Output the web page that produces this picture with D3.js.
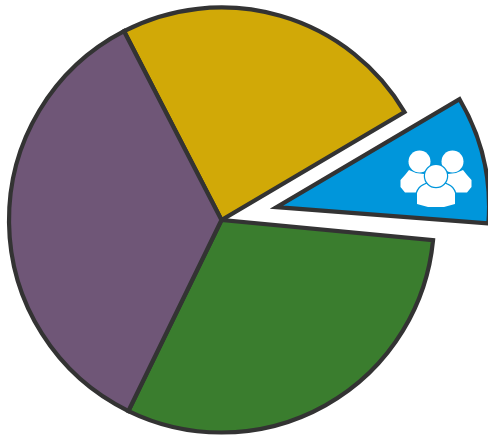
<!DOCTYPE html>
<html>
<head>
<meta charset="utf-8">
<style>
  html, body { margin: 0; padding: 0; background: #fff; overflow: hidden; }
  svg { display: block; }
</style>
<script src="https://cdn.jsdelivr.net/npm/d3@7"></script>
</head>
<body>
<script>
// Slice shares, clockwise from the top-left boundary; "Gap" is a small unpainted sliver
const categories = ["Yellow", "Blue", "Gap", "Green", "Purple"];
const shares = [24.1, 9.7, 0.3, 30.7, 35.2];
const colors = ["#d1a907", "#0096db", "none", "#3a7d2e", "#6f5677"];
const explodedSlice = "Blue";

const width = 488, height = 437;
const cx = 221.5, cy = 220, radius = 212.5, explode = 56.5;
const startDeg = -27.3;

const svg = d3.select("body").append("svg")
  .attr("width", width).attr("height", height);

const pie = d3.pie().sort(null)
  .startAngle(startDeg * Math.PI / 180)
  .endAngle((startDeg + 360) * Math.PI / 180)
  .value(d => d.share);

const arc = d3.arc().innerRadius(0).outerRadius(radius);

const slices = pie(categories.map((name, i) => ({ name, share: shares[i], color: colors[i] })))
  .filter(d => d.data.color !== "none");

const offset = d => {
  if (d.data.name !== explodedSlice) return [0, 0];
  const mid = (d.startAngle + d.endAngle) / 2;
  return [Math.sin(mid) * explode, -Math.cos(mid) * explode];
};

const groups = svg.selectAll("g.slice").data(slices).join("g")
  .attr("class", "slice")
  .attr("transform", d => {
    const [dx, dy] = offset(d);
    return `translate(${cx + dx},${cy + dy})`;
  });

groups.append("path")
  .attr("d", arc)
  .attr("fill", d => d.data.color)
  .attr("stroke", "#333333")
  .attr("stroke-width", 4.2)
  .attr("stroke-linejoin", "miter");

// People icon sitting on the exploded slice
const icon = svg.append("g").attr("transform", "translate(436,178)").attr("fill", "#fff");
const blue = colors[categories.indexOf(explodedSlice)];

const sideBody = "M-31,14.5 L-35.5,9 L-35.5,2 L-31,-3 L-27,-8 L-20,-5 L-12,-4 L-8,6 L-14,9 L-18,14.5 Z";
icon.append("circle").attr("cx", -16.5).attr("cy", -16.5).attr("r", 11);
icon.append("circle").attr("cx", 16.5).attr("cy", -16.5).attr("r", 11);
icon.append("path").attr("d", sideBody);
icon.append("path").attr("d", sideBody).attr("transform", "scale(-1,1)");
icon.append("path")
  .attr("d", "M-19,26 L-19,15 Q-17,9 -12,7 L-8,5 L0,10 L8,5 L12,7 Q17,9 19,15 L19,26 L8,29 L-8,29 Z")
  .attr("stroke", blue).attr("stroke-width", 2.5).attr("paint-order", "stroke");
icon.append("circle").attr("cx", 0).attr("cy", -2).attr("r", 11)
  .attr("stroke", blue).attr("stroke-width", 2.5).attr("paint-order", "stroke");
</script>
</body>
</html>
